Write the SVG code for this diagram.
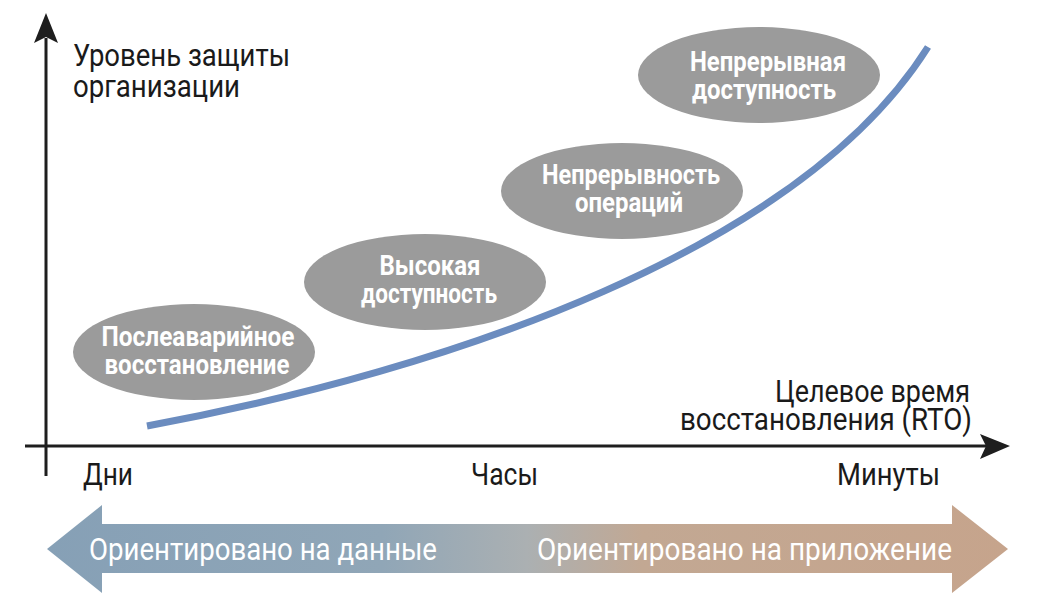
<svg xmlns="http://www.w3.org/2000/svg" width="1050" height="609" viewBox="0 0 1050 609">
<defs>
<linearGradient id="band" x1="45" y1="0" x2="1008" y2="0" gradientUnits="userSpaceOnUse">
<stop offset="0" stop-color="#86a0b6"/>
<stop offset="0.35" stop-color="#90a6b7"/>
<stop offset="0.5" stop-color="#abb0b2"/>
<stop offset="0.62" stop-color="#c2a893"/>
<stop offset="1" stop-color="#c6a48c"/>
</linearGradient>
<style>
.ax{font-family:Roboto,"Liberation Sans",sans-serif;font-size:31px;fill:#1a1a1a}
.nd{fill:#9b9b9b}
.nt{font-family:Roboto,"Liberation Sans",sans-serif;font-size:27px;font-weight:bold;fill:#ffffff;text-anchor:middle}
.bt{font-family:Roboto,"Liberation Sans",sans-serif;font-size:31px;fill:#ffffff}
.axis{stroke:#1e1e1e;stroke-width:3;fill:none}
</style>
</defs>
<rect width="1050" height="609" fill="#ffffff"/>

<g id="axes">
<line class="axis" x1="46" y1="38" x2="46" y2="476"/>
<line class="axis" x1="25" y1="446" x2="986" y2="446"/>
<polygon points="46,13 58,43 46,37 34,43" fill="#1e1e1e"/>
<polygon points="1010,446 980,434 986,446 980,459" fill="#1e1e1e"/>
</g>

<g id="axis-labels">
<text class="ax" x="73" y="66" textLength="217" lengthAdjust="spacingAndGlyphs">Уровень защиты</text>
<text class="ax" x="73" y="97" textLength="167" lengthAdjust="spacingAndGlyphs">организации</text>
<text class="ax" x="775" y="402" textLength="195" lengthAdjust="spacingAndGlyphs">Целевое время</text>
<text class="ax" x="680" y="430" textLength="292" lengthAdjust="spacingAndGlyphs">восстановления (RTO)</text>
<text class="ax" x="83" y="485" textLength="50" lengthAdjust="spacingAndGlyphs">Дни</text>
<text class="ax" x="471" y="485" textLength="67" lengthAdjust="spacingAndGlyphs">Часы</text>
<text class="ax" x="837" y="485" textLength="103" lengthAdjust="spacingAndGlyphs">Минуты</text>
</g>

<g id="connectors">
<path d="M147,426 C450,370 800,250 928,47" fill="none" stroke="#6b8cbf" stroke-width="7"/>
</g>

<g id="node-dr">
<ellipse class="nd" cx="194" cy="352" rx="121" ry="48"/>
<text class="nt" x="198" y="346" textLength="193" lengthAdjust="spacingAndGlyphs">Послеаварийное</text>
<text class="nt" x="197" y="374" textLength="185" lengthAdjust="spacingAndGlyphs">восстановление</text>
</g>

<g id="node-ha">
<ellipse class="nd" cx="425" cy="282" rx="121" ry="48"/>
<text class="nt" x="430" y="275" textLength="101" lengthAdjust="spacingAndGlyphs">Высокая</text>
<text class="nt" x="429" y="303" textLength="136" lengthAdjust="spacingAndGlyphs">доступность</text>
</g>

<g id="node-co">
<ellipse class="nd" cx="622" cy="191" rx="121" ry="48"/>
<text class="nt" x="631" y="184" textLength="178" lengthAdjust="spacingAndGlyphs">Непрерывность</text>
<text class="nt" x="629" y="212" textLength="108" lengthAdjust="spacingAndGlyphs">операций</text>
</g>

<g id="node-ca">
<ellipse class="nd" cx="759" cy="75" rx="121" ry="48"/>
<text class="nt" x="768" y="71" textLength="156" lengthAdjust="spacingAndGlyphs">Непрерывная</text>
<text class="nt" x="764" y="99" textLength="144" lengthAdjust="spacingAndGlyphs">доступность</text>
</g>

<g id="band-arrow">
<polygon points="47,549 102,505 102,524 952,524 952,505 1008,549 952,593 952,573 102,573 102,593" fill="url(#band)"/>
<text class="bt" x="89" y="560" textLength="348" lengthAdjust="spacingAndGlyphs">Ориентировано на данные</text>
<text class="bt" x="537" y="560" textLength="415" lengthAdjust="spacingAndGlyphs">Ориентировано на приложение</text>
</g>
</svg>
